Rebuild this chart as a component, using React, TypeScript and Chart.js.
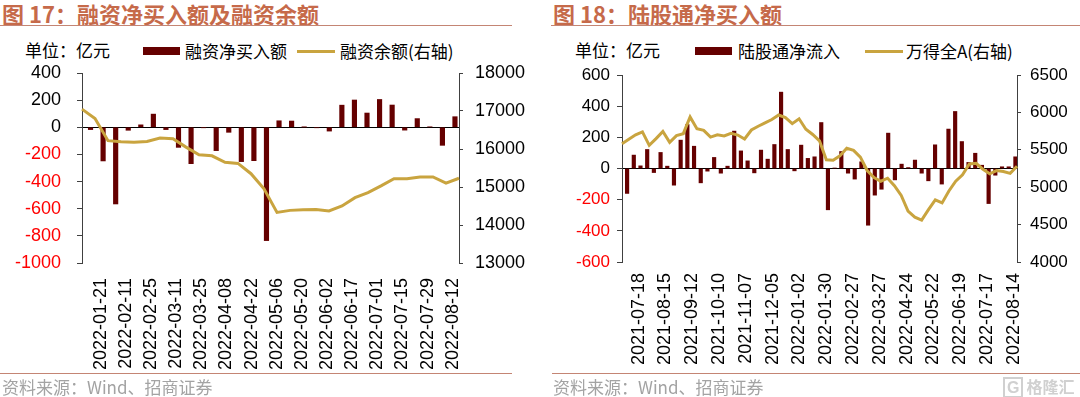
import React, { useEffect, useRef } from 'react';
import { Chart, registerables } from 'chart.js';

Chart.register(...registerables);

// ---------- Figure 17: margin financing ----------
const marginCategories = [
  '2022-01-14', '2022-01-21', '2022-01-28', '2022-02-11', '2022-02-18', '2022-02-25',
  '2022-03-04', '2022-03-11', '2022-03-18', '2022-03-25', '2022-04-01', '2022-04-08',
  '2022-04-15', '2022-04-22', '2022-04-29', '2022-05-06', '2022-05-13', '2022-05-20',
  '2022-05-27', '2022-06-02', '2022-06-10', '2022-06-17', '2022-06-24', '2022-07-01',
  '2022-07-08', '2022-07-15', '2022-07-22', '2022-07-29', '2022-08-05', '2022-08-12',
];
const marginNetBuy = [
  -17, -248, -565, -22, 18, 97, -17, -148, -268, -3, -172, -37, -253, -246, -835,
  48, 46, 2, -3, -28, 163, 201, 105, 205, 164, -21, 64, 3, -133, 78,
];
const marginBalance = [
  17050, 16800, 16220, 16190, 16180, 16200, 16290, 16270, 16050, 15850, 15820, 15650,
  15620, 15350, 14950, 14330, 14385, 14400, 14405, 14370, 14500, 14720, 14850, 15030,
  15220, 15215, 15260, 15265, 15100, 15230,
];
const marginLeftAxis = [-1000, 400, 200]; // min, max, step
const marginRightAxis = [13000, 18000, 1000];

// ---------- Figure 18: northbound flows ----------
const northCategories = [
  '2021-07-04', '2021-07-11', '2021-07-18', '2021-07-25', '2021-08-01', '2021-08-08',
  '2021-08-15', '2021-08-22', '2021-08-29', '2021-09-05', '2021-09-12', '2021-09-19',
  '2021-09-26', '2021-10-03', '2021-10-10', '2021-10-17', '2021-10-24', '2021-10-31',
  '2021-11-07', '2021-11-14', '2021-11-21', '2021-11-28', '2021-12-05', '2021-12-12',
  '2021-12-19', '2021-12-26', '2022-01-02', '2022-01-09', '2022-01-16', '2022-01-23',
  '2022-01-30', '2022-02-06', '2022-02-13', '2022-02-20', '2022-02-27', '2022-03-06',
  '2022-03-13', '2022-03-20', '2022-03-27', '2022-04-03', '2022-04-10', '2022-04-17',
  '2022-04-24', '2022-05-01', '2022-05-08', '2022-05-15', '2022-05-22', '2022-05-29',
  '2022-06-05', '2022-06-12', '2022-06-19', '2022-06-26', '2022-07-03', '2022-07-10',
  '2022-07-17', '2022-07-24', '2022-07-31', '2022-08-07', '2022-08-14',
];
const northNetInflow = [
  -160, 86, 17, 122, -26, 103, 15, -107, 182, 282,
  143, -92, -17, 71, -30, 15, 240, 113, 49, -28,
  118, 60, 154, 490, 122, -15, 150, 65, 75, 295,
  -265, 3, 109, -30, -68, 43, -364, -171, -133, 227,
  -73, 28, 6, 54, -30, -79, 152, -100, 253, 366,
  173, 39, 98, 21, -225, -43, 11, 11, 75,
];
const windAllA = [
  5582, 5640, 5700, 5740, 5560, 5650, 5745, 5600, 5690, 5716,
  5940, 5783, 5760, 5670, 5700, 5685, 5720, 5697, 5645, 5765,
  5815, 5860, 5905, 5965, 5930, 5850, 5915, 5775, 5705, 5620,
  5367, 5360, 5420, 5520, 5492, 5402, 5223, 5130, 5080, 5120,
  5020, 4890, 4680, 4600, 4560, 4700, 4830, 4790, 4950, 5080,
  5165, 5310, 5320, 5240, 5180, 5223, 5210, 5185, 5280,
];
const northLeftAxis = [-600, 600, 200];
const northRightAxis = [4000, 6500, 500];

const BAR_COLOR = '#650000';
const LINE_COLOR = '#C9A43F';
const TITLE_COLOR = '#C66A4A';
const RULE_COLOR = '#C48574';
const AXIS_COLOR = '#404040';
const NUM_FONT = '"Liberation Sans", Arial, sans-serif';
const CJK_FONT = '"Noto Sans CJK SC", "Noto Sans", sans-serif';

type ChartProps = {
  left: number; top: number; w: number; h: number;
  labels: string[]; bars: number[]; line: number[];
  barName: string; lineName: string;
  yAxis: number[]; y1Axis: number[];
  every: number; start: number;
  padTop: number; yWidth: number; y1Width: number; xHeight: number;
  yPad: number; y1Pad: number; xPad: number; barThickness: number; tickSize: number;
};

function DualChart(p: ChartProps) {
  const ref = useRef<HTMLCanvasElement | null>(null);
  useEffect(() => {
    if (!ref.current) return;
    const tickFont = { family: NUM_FONT, size: p.tickSize };
    const noPad = (s: any) => { s.paddingTop = 0; s.paddingBottom = 0; };
    const chart = new Chart(ref.current, {
      data: {
        labels: p.labels,
        datasets: [
          {
            type: 'line',
            label: p.lineName,
            data: p.line,
            borderColor: LINE_COLOR,
            borderWidth: 3,
            pointRadius: 0,
            tension: 0,
            xAxisID: 'x2',
            yAxisID: 'y1',
            order: 0,
          },
          {
            type: 'bar',
            label: p.barName,
            data: p.bars,
            backgroundColor: BAR_COLOR,
            barThickness: p.barThickness,
            xAxisID: 'x',
            yAxisID: 'y',
            order: 1,
          },
        ],
      } as any,
      options: {
        animation: false,
        responsive: false,
        maintainAspectRatio: false,
        layout: { padding: { top: p.padTop, left: 0, right: 0, bottom: 0 } },
        plugins: { legend: { display: false }, tooltip: { enabled: false }, title: { display: false } },
        scales: {
          x: {
            type: 'category',
            position: 'bottom',
            offset: true,
            grid: { display: false, drawTicks: false },
            border: { display: false },
            ticks: {
              autoSkip: false,
              maxRotation: 90,
              minRotation: 90,
              padding: p.xPad,
              color: '#000',
              font: { family: NUM_FONT, size: 18 },
              callback: (_v: any, i: number) => (i % p.every === p.start ? p.labels[i] : ''),
            },
            afterFit: (s: any) => { s.height = p.xHeight; },
          },
          x2: {
            type: 'category',
            position: 'bottom',
            offset: false,
            display: false,
            grid: { display: false, drawTicks: false },
            ticks: { display: false },
            afterFit: (s: any) => { s.height = 0; s.paddingLeft = 0; s.paddingRight = 0; },
          },
          y: {
            position: 'left',
            min: p.yAxis[0],
            max: p.yAxis[1],
            ticks: {
              stepSize: p.yAxis[2],
              padding: p.yPad,
              font: tickFont,
              color: (ctx: any) => (ctx.tick && ctx.tick.value < 0 ? '#FF0000' : '#000'),
              callback: (v: any) => String(v),
            },
            grid: {
              color: (ctx: any) => (ctx.tick && ctx.tick.value === 0 ? '#000' : 'rgba(0,0,0,0)'),
              tickColor: AXIS_COLOR,
              tickLength: 5,
              lineWidth: 1,
            },
            border: { display: true, color: AXIS_COLOR, width: 1 },
            afterFit: (s: any) => { s.width = p.yWidth; noPad(s); },
          },
          y1: {
            position: 'right',
            min: p.y1Axis[0],
            max: p.y1Axis[1],
            ticks: {
              stepSize: p.y1Axis[2],
              padding: p.y1Pad,
              font: tickFont,
              color: '#000',
              callback: (v: any) => String(v),
            },
            grid: { drawOnChartArea: false, tickColor: AXIS_COLOR, tickLength: 4 },
            border: { display: true, color: AXIS_COLOR, width: 1 },
            afterFit: (s: any) => { s.width = p.y1Width; noPad(s); },
          },
        },
      } as any,
    });
    return () => chart.destroy();
  }, []);
  return (
    <canvas
      ref={ref}
      width={p.w}
      height={p.h}
      style={{ position: 'absolute', left: p.left, top: p.top, width: p.w, height: p.h }}
    />
  );
}

const abs = (left: number, top: number, extra: React.CSSProperties = {}): React.CSSProperties => ({
  position: 'absolute', left, top, whiteSpace: 'nowrap', ...extra,
});

function Header(props: { x: number; ruleW: number; title: string; unitX: number; sw1: number; t1: string; t1x: number; sw2: number; t2: string; t2x: number }) {
  const txt: React.CSSProperties = { fontFamily: CJK_FONT, fontSize: 17, lineHeight: '17px', color: '#000' };
  return (
    <>
      <div style={abs(props.x, 2, { fontFamily: CJK_FONT, fontWeight: 700, fontSize: 22, lineHeight: '22px', color: TITLE_COLOR })}>
        {props.title}
      </div>
      <div style={abs(props.x - 2, 24.5, { width: props.ruleW, height: 1.5, background: RULE_COLOR })} />
      <div style={abs(props.unitX, 40.5, txt)}>单位：亿元</div>
      <div style={abs(props.sw1, 47, { width: 37, height: 8, background: BAR_COLOR })} />
      <div style={abs(props.t1x, 42, txt)}>{props.t1}</div>
      <div style={abs(props.sw2, 50, { width: 38, height: 2.5, background: LINE_COLOR })} />
      <div style={abs(props.t2x, 42, txt)}>{props.t2}</div>
    </>
  );
}

export default function App() {
  const foot: React.CSSProperties = { fontFamily: CJK_FONT, fontSize: 17, lineHeight: '17px', color: '#A3A3A3' };
  return (
    <div style={{ position: 'absolute', left: 0, top: 0, width: 1080, height: 397, background: '#fff', overflow: 'hidden' }}>
      <Header x={2} ruleW={512} title="图 17：融资净买入额及融资余额" unitX={25}
        sw1={143} t1="融资净买入额" t1x={185} sw2={297} t2="融资余额(右轴)" t2x={340} />
      <Header x={553} ruleW={529} title="图 18：陆股通净买入额" unitX={575}
        sw1={695} t1="陆股通净流入" t1x={738} sw2={865} t2="万得全A(右轴)" t2x={906} />

      <DualChart left={0} top={60} w={530} h={315}
        labels={marginCategories} bars={marginNetBuy} line={marginBalance}
        barName="融资净买入额" lineName="融资余额(右轴)"
        yAxis={marginLeftAxis} y1Axis={marginRightAxis} every={2} start={1}
        padTop={13} yWidth={82} y1Width={71} xHeight={112}
        yPad={16} y1Pad={12} xPad={15} barThickness={4.5} tickSize={18} />
      <DualChart left={540} top={60} w={540} h={315}
        labels={northCategories} bars={northNetInflow} line={windAllA}
        barName="陆股通净流入" lineName="万得全A(右轴)"
        yAxis={northLeftAxis} y1Axis={northRightAxis} every={4} start={2}
        padTop={15} yWidth={82} y1Width={63} xHeight={113}
        yPad={7} y1Pad={9} xPad={11} barThickness={3.5} tickSize={17} />

      <div style={abs(0, 372.5, { width: 512, height: 1.5, background: RULE_COLOR })} />
      <div style={abs(552, 372.5, { width: 528, height: 1.5, background: RULE_COLOR })} />
      <div style={abs(2, 378, foot)}>资料来源：Wind、招商证券</div>
      <div style={abs(553, 378, foot)}>资料来源：Wind、招商证券</div>
      <div style={abs(1003, 377, { fontFamily: CJK_FONT, fontSize: 16, lineHeight: '18px', color: '#D0D0D0', fontWeight: 700 })}>
        <span style={{ border: '2px solid #D0D0D0', padding: '0 2px', marginRight: 3, fontFamily: NUM_FONT }}>G</span>格隆汇
      </div>
    </div>
  );
}
